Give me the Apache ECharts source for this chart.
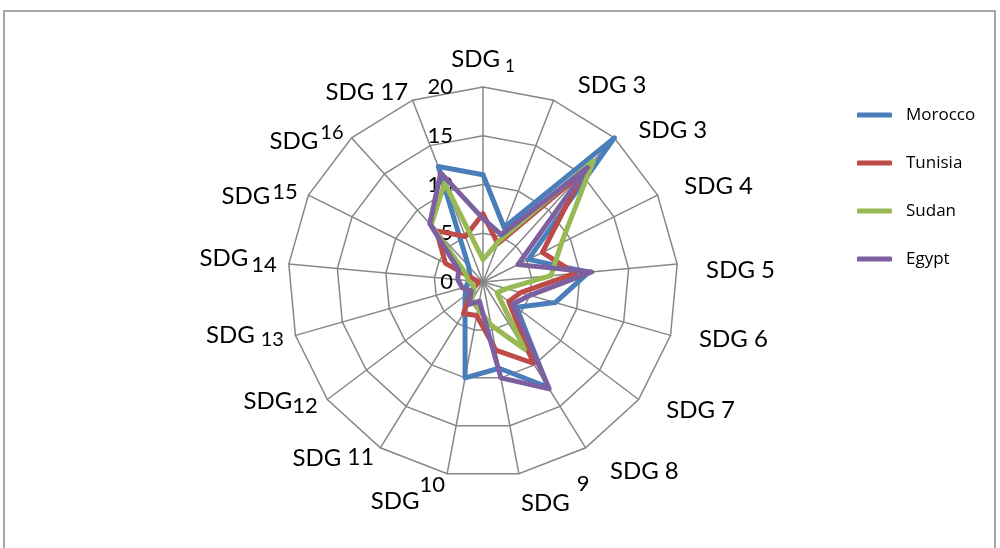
<!DOCTYPE html>
<html>
<head>
<meta charset="utf-8">
<script src="https://cdn.jsdelivr.net/npm/echarts@6/dist/echarts.min.js"></script>
<style>
  html, body { margin: 0; padding: 0; background: #fff; }
  #chart { width: 1000px; height: 548px; }
</style>
</head>
<body>
<div id="chart"></div>
<script>
// Goal labels, listed clockwise starting at the top spoke
const categories = ['SDG 1', 'SDG 3', 'SDG 3', 'SDG 4', 'SDG 5', 'SDG 6', 'SDG 7', 'SDG 8', 'SDG 9',
  'SDG 10', 'SDG 11', 'SDG 12', 'SDG 13', 'SDG 14', 'SDG 15', 'SDG 16', 'SDG 17'];

const countries = ['Morocco', 'Tunisia', 'Sudan', 'Egypt'];

const morocco = [11, 6, 20, 5.2, 10.9, 7.7, 4.3, 12.7, 9, 10, 3.5, 2.3, 1.8, 1.5, 1.5, 2.2, 12.7];
const tunisia = [7, 4.2, 15.3, 6.8, 9.5, 4, 3.3, 9.8, 7.1, 3.5, 3.8, 1.5, 0.6, 0.5, 4.3, 7.1, 5];
const sudan   = [2.3, 4.5, 16.8, 9, 7, 2.5, 1.8, 8.1, 4.5, 2.8, 2.2, 1.2, 1, 1.5, 2, 7.9, 10.9];
const egypt   = [6.5, 5.2, 15.9, 4, 11.2, 5, 3.8, 12.9, 10, 2, 2.7, 1.5, 2.2, 2.6, 2.8, 8.1, 12];

// Scale of every spoke: 0 to 20 in steps of 5
const scaleMin = 0;
const scaleMax = 20;
const scaleStep = 5;

const seriesColors = ['#4a7ebb', '#be4b48', '#98b954', '#7d60a0'];

// Name label typesetting per spoke:
// [gap before number, shift of "SDG" (+ = down), shift of number, left indent, number font size]
const NAME_LAYOUT = [
  [5, 0, 7, 0, 17],
  [6, -4, -4, 20, 24],
  [6, 1, 1, 16, 24],
  [6, -3, -3, 16, 24],
  [6, 7, 7, 17, 24],
  [6, 1, 1, 17, 24],
  [6, 4, 4, 18, 24],
  [6, 13, 13, 18, 24],
  [7, 18, -2, 0, 22],
  [0, 16, -1, 0, 22],
  [6, 0, 0, 0, 23],
  [0, -5, -1, 0, 22],
  [6, -3, 1, 0, 20],
  [3, -5, 2, 0, 22],
  [2, 7, 2, 0, 22],
  [2, 12, 4, 0, 20],
  [6, 3, 3, 0, 24]
];

const FONT = 'Lato, "Open Sans", sans-serif';

function shiftPadding(dy, left) {
  return dy >= 0 ? [2 * dy, 0, 0, left] : [0, 0, -2 * dy, left];
}

const rich = {};
function nameFor(i) {
  const parts = categories[i].split(' ');
  const L = NAME_LAYOUT[i];
  rich['p' + i] = { fontFamily: FONT, fontSize: 24, color: '#000', verticalAlign: 'middle',
    padding: shiftPadding(L[1], L[3]) };
  rich['q' + i] = { fontFamily: FONT, fontSize: L[4], color: '#000', verticalAlign: 'middle',
    padding: shiftPadding(L[2], L[0]) };
  return '{p' + i + '|' + parts[0] + '}{q' + i + '|' + parts[1] + '}';
}

// ECharts lays radar indicators out counter-clockwise, so feed them in reverse after the first
const order = [0];
for (let i = categories.length - 1; i >= 1; i--) order.push(i);

const indicator = order.map(function (i) {
  const ind = { name: nameFor(i), min: scaleMin, max: scaleMax };
  if (i === 0) {
    ind.axisLabel = { show: true, color: '#000', fontFamily: FONT, fontSize: 22, margin: 30,
      padding: [6, 0, 0, 0] };
  }
  return ind;
});

function reorder(values) { return order.map(function (i) { return values[i]; }); }

const valueSets = [morocco, tunisia, sudan, egypt];

const chart = echarts.init(document.getElementById('chart'), null, { renderer: 'canvas' });
chart.setOption({
  backgroundColor: '#fff',
  animation: false,
  graphic: [{
    type: 'rect',
    shape: { x: 4, y: 11, width: 991, height: 600 },
    style: { fill: 'none', stroke: '#8a8a8a', lineWidth: 1.5 },
    silent: true
  }],
  legend: {
    orient: 'vertical',
    left: 852,
    top: 100,
    itemWidth: 35,
    itemHeight: 5,
    itemGap: 28,
    icon: 'roundRect',
    data: countries,
    textStyle: { fontFamily: '"Open Sans", sans-serif', fontSize: 17, color: '#000', lineHeight: 20,
      padding: [0, 0, 0, 9] }
  },
  radar: {
    center: [483, 282],
    radius: 195,
    startAngle: 90,
    splitNumber: (scaleMax - scaleMin) / scaleStep,
    shape: 'polygon',
    nameGap: 12,
    axisName: { color: '#000', fontFamily: FONT, fontSize: 24, rich: rich },
    axisLine: { lineStyle: { color: '#878787', width: 1.5 } },
    splitLine: { lineStyle: { color: '#878787', width: 1.5 } },
    splitArea: { show: false },
    axisTick: { show: false },
    axisLabel: { show: false },
    indicator: indicator
  },
  series: [{
    type: 'radar',
    symbol: 'none',
    data: countries.map(function (name, k) {
      return {
        name: name,
        value: reorder(valueSets[k]),
        itemStyle: { color: seriesColors[k] },
        lineStyle: { color: seriesColors[k], width: 5, join: 'round', cap: 'round' }
      };
    })
  }]
});
</script>
</body>
</html>
